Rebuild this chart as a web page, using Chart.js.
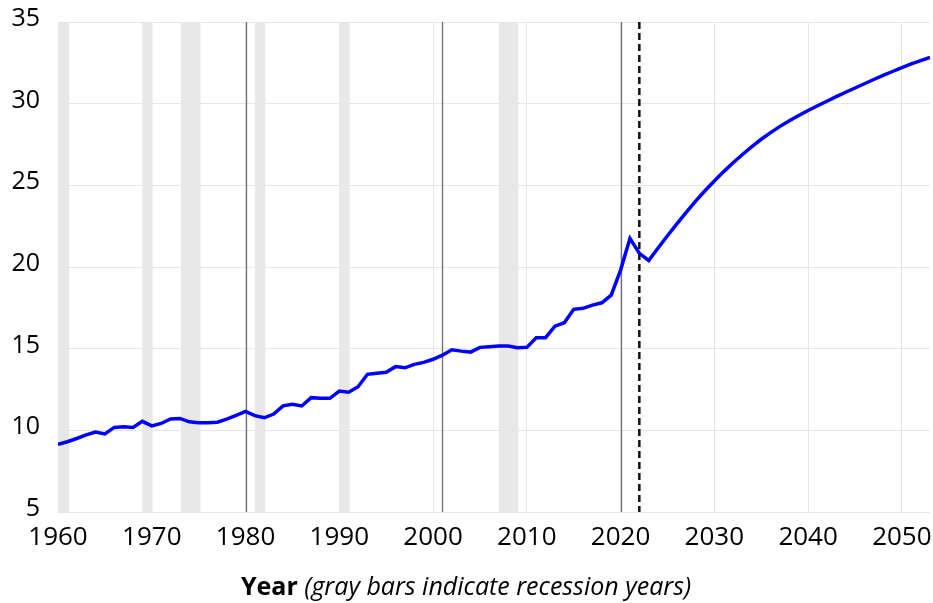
<!DOCTYPE html>
<html>
<head>
<meta charset="utf-8">
<script src="https://cdn.jsdelivr.net/npm/chart.js@4"></script>
<style>
  html, body { margin: 0; padding: 0; background: #fff; }
  #wrap { width: 933px; height: 603px; position: relative; }
</style>
</head>
<body>
<div id="wrap"><canvas id="ratioChart"></canvas></div>
<script>
// Historical values (1960-2023) and projection (2024-2053)
const histYears = [];
for (let y = 1960; y <= 2023; y++) histYears.push(y);
const histValues = [
    9.14, 9.3, 9.5, 9.72, 9.9, 9.78, 10.18, 10.22, 10.18, 10.55,
    10.27, 10.42, 10.7, 10.73, 10.52, 10.47, 10.47, 10.5, 10.69, 10.92,
    11.16, 10.9, 10.77, 11.0, 11.5, 11.59, 11.49, 12.0, 11.96, 11.96,
    12.4, 12.33, 12.67, 13.43, 13.49, 13.55, 13.9, 13.83, 14.04, 14.16,
    14.35, 14.6, 14.93, 14.85, 14.79, 15.08, 15.12, 15.16, 15.16, 15.06,
    15.08, 15.67, 15.67, 16.38, 16.59, 17.41, 17.47, 17.67, 17.81, 18.28,
    19.81, 21.75, 20.84, 20.4
];
const projYears = [];
for (let y = 2024; y <= 2053; y++) projYears.push(y);
const projValues = [
    21.16, 21.91, 22.64, 23.35, 24.03, 24.67, 25.27, 25.84, 26.38, 26.89,
    27.37, 27.82, 28.23, 28.61, 28.96, 29.28, 29.58, 29.87, 30.15, 30.43,
    30.7, 30.96, 31.22, 31.48, 31.73, 31.97, 32.21, 32.43, 32.64, 32.84
];

// Recession shading (start / end years) and single-year recession markers
const recessionStart = [1960.1, 1969.0, 1973.1, 1981.0, 1990.0, 2007.0];
const recessionEnd   = [1961.2, 1970.1, 1975.2, 1982.1, 1991.1, 2009.1];
const recessionLines = [1980, 2001, 2020];
const forecastStart = 2022;

const yTicks = [5, 10, 15, 20, 25, 30, 35];
const xTicks = [1960, 1970, 1980, 1990, 2000, 2010, 2020, 2030, 2040, 2050];

const points = histYears.map((y, i) => ({ x: y, y: histValues[i] }))
    .concat(projYears.map((y, i) => ({ x: y, y: projValues[i] })));

/**
 * Gray recession bars + vertical marker lines
 */
const recessionPlugin = {
    id: 'recessions',
    beforeDatasetsDraw(chart) {
        const { ctx, chartArea, scales } = chart;
        const xs = scales.x;
        ctx.save();
        ctx.fillStyle = '#e8e8e8';
        recessionStart.forEach((s, i) => {
            const x0 = xs.getPixelForValue(s);
            const x1 = xs.getPixelForValue(recessionEnd[i]);
            ctx.fillRect(x0, chartArea.top, x1 - x0, chartArea.bottom - chartArea.top);
        });
        ctx.strokeStyle = '#6e6e6e';
        ctx.lineWidth = 1.3;
        recessionLines.forEach(yr => {
            const x = Math.round(xs.getPixelForValue(yr)) + 0.5;
            ctx.beginPath();
            ctx.moveTo(x, chartArea.top);
            ctx.lineTo(x, chartArea.bottom);
            ctx.stroke();
        });
        // forecast divider
        const fx = xs.getPixelForValue(forecastStart);
        ctx.strokeStyle = '#111';
        ctx.lineWidth = 2.5;
        ctx.setLineDash([7, 4]);
        ctx.beginPath();
        ctx.moveTo(fx, chartArea.top);
        ctx.lineTo(fx, chartArea.bottom);
        ctx.stroke();
        ctx.restore();
    },
    afterDraw(chart) {
        // x-axis title: bold "Year" + italic note
        const { ctx } = chart;
        const bold = 'bold 25px "Open Sans"';
        const ital = 'italic 25px "Open Sans"';
        const a = 'Year ';
        const b = '(gray bars indicate recession years)';
        ctx.save();
        ctx.font = bold;
        const wa = ctx.measureText(a).width;
        ctx.font = ital;
        const wb = ctx.measureText(b).width;
        const cx = 466;
        let x = cx - (wa + wb) / 2;
        const y = 588;
        ctx.textBaseline = 'middle';
        ctx.fillStyle = '#000';
        ctx.font = bold;
        ctx.fillText(a, x, y);
        ctx.font = ital;
        ctx.fillText(b, x + wa, y);
        ctx.restore();
    }
};

function createChart() {
    const ctx = document.getElementById('ratioChart').getContext('2d');
    new Chart(ctx, {
        type: 'line',
        data: {
            datasets: [{
                data: points,
                borderColor: '#0000ff',
                borderWidth: 3.5,
                pointRadius: 0,
                fill: false,
                tension: 0
            }]
        },
        options: {
            responsive: true,
            maintainAspectRatio: false,
            animation: false,
            layout: { padding: { top: 22, right: 3, left: 0, bottom: 0 } },
            plugins: {
                legend: { display: false },
                tooltip: { enabled: false }
            },
            scales: {
                x: {
                    type: 'linear',
                    min: 1960,
                    max: 2053,
                    afterBuildTicks: axis => { axis.ticks = xTicks.map(v => ({ value: v })); },
                    afterFit: axis => {
                        axis.height = 91;
                        axis.paddingLeft = 0;
                        axis.paddingRight = 0;
                    },
                    grid: { color: '#e6e6e6', lineWidth: 1, drawTicks: false },
                    border: { display: false },
                    ticks: {
                        maxRotation: 0,
                        autoSkip: false,
                        padding: 10,
                        color: '#000',
                        font: { family: '"Open Sans"', size: 26 },
                        callback: v => String(v)
                    }
                },
                y: {
                    min: 5,
                    max: 35,
                    afterBuildTicks: axis => { axis.ticks = yTicks.map(v => ({ value: v })); },
                    afterFit: axis => {
                        axis.width = 58;
                        axis.paddingTop = 0;
                        axis.paddingBottom = 0;
                    },
                    grid: { color: '#e6e6e6', lineWidth: 1, drawTicks: false },
                    border: { display: false },
                    ticks: {
                        padding: 18,
                        labelOffset: -3,
                        color: '#000',
                        font: { family: '"Open Sans"', size: 25 }
                    }
                }
            }
        },
        plugins: [recessionPlugin]
    });
}

document.addEventListener('DOMContentLoaded', createChart);
</script>
</body>
</html>
